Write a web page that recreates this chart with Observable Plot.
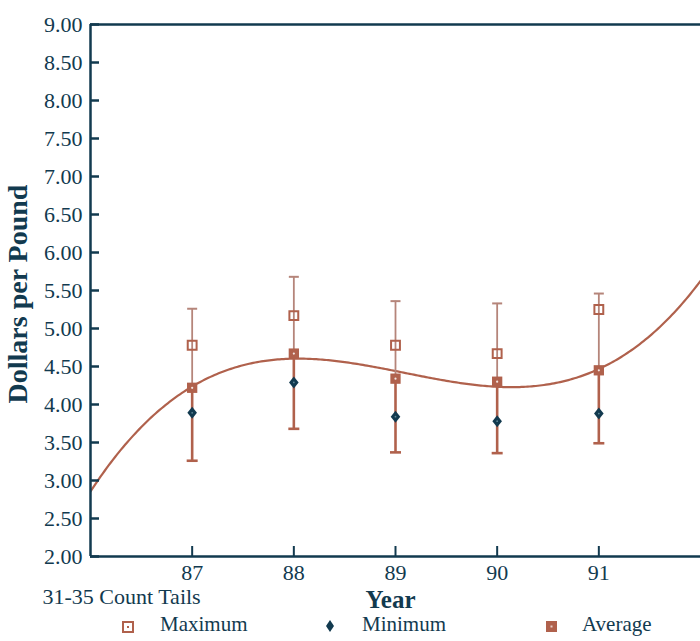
<!DOCTYPE html>
<html>
<head>
<meta charset="utf-8">
<script src="https://cdn.jsdelivr.net/npm/d3@7"></script>
<script src="https://cdn.jsdelivr.net/npm/@observablehq/plot@0.6"></script>
<style>
  html, body { margin: 0; padding: 0; background: #fff; }
  #chart { position: relative; width: 700px; height: 641px; font-family: "Liberation Serif", serif; color: #123a4f; }
  #legend { position: absolute; left: 0; top: 612px; width: 700px; height: 29px; }
  #legend .lbl { position: absolute; top: 2px; font-size: 21px; line-height: 21px; white-space: nowrap; }
  #legend svg { position: absolute; overflow: visible; }
</style>
</head>
<body>
<div id="chart"></div>
<script>
// ---- data ----
const years    = [87, 88, 89, 90, 91];
const maxVals  = [4.78, 5.17, 4.78, 4.67, 5.25];
const minVals  = [3.89, 4.29, 3.84, 3.78, 3.88];
const avgVals  = [4.22, 4.67, 4.34, 4.30, 4.45];
const barHigh  = [5.26, 5.68, 5.36, 5.33, 5.46];
const barLow   = [3.26, 3.68, 3.37, 3.36, 3.49];
const yTicks   = [2, 2.5, 3, 3.5, 4, 4.5, 5, 5.5, 6, 6.5, 7, 7.5, 8, 8.5, 9];
const xTicks   = [87, 88, 89, 90, 91];
const xDomain  = [86, 92];
const yDomain  = [2, 9];
const yLabel   = "Dollars per Pound";
const xLabel   = "Year";
const caption  = "31-35 Count Tails";
const legendNames = ["Maximum", "Minimum", "Average"];

// ---- layout / styles ----
const W = 700, H = 612, mT = 24, mB = 56, mL = 90, mR = 0;
const innerW = W - mL - mR, innerH = H - mT - mB;
const navy = "#123a4f";
const rust = "#b0614c";
const rustLight = "#b5857a";

const rows = years.map((y, i) => ({year: y, max: maxVals[i], min: minVals[i], avg: avgVals[i], high: barHigh[i], low: barLow[i]}));

// cubic least-squares trend through the averages
function polyFit(xs, ys, deg) {
  const n = deg + 1;
  const A = Array.from({length: n}, () => new Array(n + 1).fill(0));
  xs.forEach((x, k) => {
    for (let i = 0; i < n; i++) {
      for (let j = 0; j < n; j++) A[i][j] += Math.pow(x, i + j);
      A[i][n] += Math.pow(x, i) * ys[k];
    }
  });
  for (let c = 0; c < n; c++) {
    let p = c;
    for (let r = c + 1; r < n; r++) if (Math.abs(A[r][c]) > Math.abs(A[p][c])) p = r;
    [A[c], A[p]] = [A[p], A[c]];
    for (let r = 0; r < n; r++) {
      if (r === c) continue;
      const f = A[r][c] / A[c][c];
      for (let k = c; k <= n; k++) A[r][k] -= f * A[c][k];
    }
  }
  return A.map((row, i) => row[n] / row[i]);
}
const center = d3.mean(years);
const coef = polyFit(years.map(y => y - center), avgVals, 3);
const trend = d3.range(xDomain[0], xDomain[1] + 1e-9, 0.02).map(x => {
  const t = x - center;
  return {year: x, value: coef.reduce((s, c, i) => s + c * Math.pow(t, i), 0)};
});

const capSymbol = {draw(ctx, size) { const r = Math.sqrt(size / Math.PI); ctx.moveTo(-r, 0); ctx.lineTo(r, 0); }};
const diamondSymbol = {draw(ctx, size) { const r = Math.sqrt(size / Math.PI); ctx.moveTo(0, -r * 1.25); ctx.lineTo(r, 0); ctx.lineTo(0, r * 1.25); ctx.lineTo(-r, 0); ctx.closePath(); }};

const plot = Plot.plot({
  width: W,
  height: H,
  marginTop: mT,
  marginBottom: mB,
  marginLeft: mL,
  marginRight: mR,
  style: {fontFamily: "'Liberation Serif', serif", fontSize: "22px", color: navy, background: "white", overflow: "visible"},
  x: {domain: xDomain},
  y: {domain: yDomain},
  marks: [
    // trend curve
    Plot.line(trend, {x: "year", y: "value", stroke: rust, strokeWidth: 2.2, clip: true}),
    // error bars
    Plot.ruleX(rows, {x: "year", y1: "avg", y2: "high", stroke: rustLight, strokeWidth: 1.8}),
    Plot.ruleX(rows, {x: "year", y1: "low", y2: "avg", stroke: rust, strokeWidth: 2.6}),
    Plot.dot(rows, {x: "year", y: "high", symbol: capSymbol, r: 5, fill: "none", stroke: rustLight, strokeWidth: 2}),
    Plot.dot(rows, {x: "year", y: "low", symbol: capSymbol, r: 5.5, fill: "none", stroke: rust, strokeWidth: 2.6}),
    // maximum (hollow square)
    Plot.dot(rows, {x: "year", y: "max", symbol: "square", r: 5, fill: "none", stroke: rust, strokeWidth: 2}),
    // average (filled square with light centre)
    Plot.dot(rows, {x: "year", y: "avg", symbol: "square", r: 5.8, fill: rust, stroke: "none"}),
    Plot.dot(rows, {x: "year", y: "avg", r: 1.1, fill: "#f3e6e2", stroke: "none"}),
    // minimum (diamond)
    Plot.dot(rows, {x: "year", y: "min", symbol: diamondSymbol, r: 4.8, fill: navy, stroke: "none"}),
    Plot.dot(rows, {x: "year", y: "min", r: 0.9, fill: "#5f8797", stroke: "none"}),
    // frame lines
    Plot.ruleY([yDomain[1]], {stroke: navy, strokeWidth: 2.5}),
    Plot.ruleY([yDomain[0]], {stroke: navy, strokeWidth: 2.5}),
    Plot.ruleX([xDomain[0]], {stroke: navy, strokeWidth: 2.5}),
    // inward tick marks (short ticks using insets)
    Plot.tickY(yTicks, {y: d => d, insetRight: innerW - 9, stroke: navy, strokeWidth: 2.5}),
    Plot.tickX(xTicks, {x: d => d, insetTop: innerH - 10, stroke: navy, strokeWidth: 2}),
    // tick labels
    Plot.axisY(yTicks, {tickSize: 0, tickPadding: 8, tickFormat: d3.format(".2f"), fill: navy, fontSize: 22, label: null}),
    Plot.axisX(xTicks, {tickSize: 0, tickPadding: 8, tickFormat: d => String(d), fill: navy, fontSize: 22, label: null}),
    // axis titles and caption
    Plot.text([yLabel], {text: d => d, frameAnchor: "left", textAnchor: "middle", lineAnchor: "middle", rotate: -90, dx: -72, dy: 3.5, fontSize: 28, fontWeight: "bold", fill: navy}),
    Plot.text([xLabel], {text: d => d, frameAnchor: "bottom", textAnchor: "middle", lineAnchor: "middle", dx: -5, dy: 43.5, fontSize: 25, fontWeight: "bold", fill: navy}),
    Plot.text([caption], {text: d => d, frameAnchor: "bottom-left", textAnchor: "start", lineAnchor: "middle", dx: -48, dy: 40, fontSize: 22, fill: navy})
  ]
});

const chart = document.getElementById("chart");
chart.appendChild(plot);

// legend below the plot
const legend = document.createElement("div");
legend.id = "legend";
legend.innerHTML = `
  <svg style="left:122px;top:9px" width="12" height="12"><rect x="1" y="1" width="10" height="10" fill="none" stroke="${rust}" stroke-width="2"/><rect x="5" y="5" width="2" height="2" fill="${rust}"/></svg>
  <span class="lbl" style="left:160px">${legendNames[0]}</span>
  <svg style="left:325px;top:8px" width="10" height="12"><path d="M5,0L9,6L5,12L1,6Z" fill="${navy}"/></svg>
  <span class="lbl" style="left:362px">${legendNames[1]}</span>
  <svg style="left:546px;top:9px" width="11" height="11"><rect x="0" y="0" width="11" height="11" fill="${rust}"/><rect x="4.5" y="4.5" width="2" height="2" fill="#e8cfc8"/></svg>
  <span class="lbl" style="left:582px">${legendNames[2]}</span>`;
chart.appendChild(legend);
</script>
</body>
</html>
